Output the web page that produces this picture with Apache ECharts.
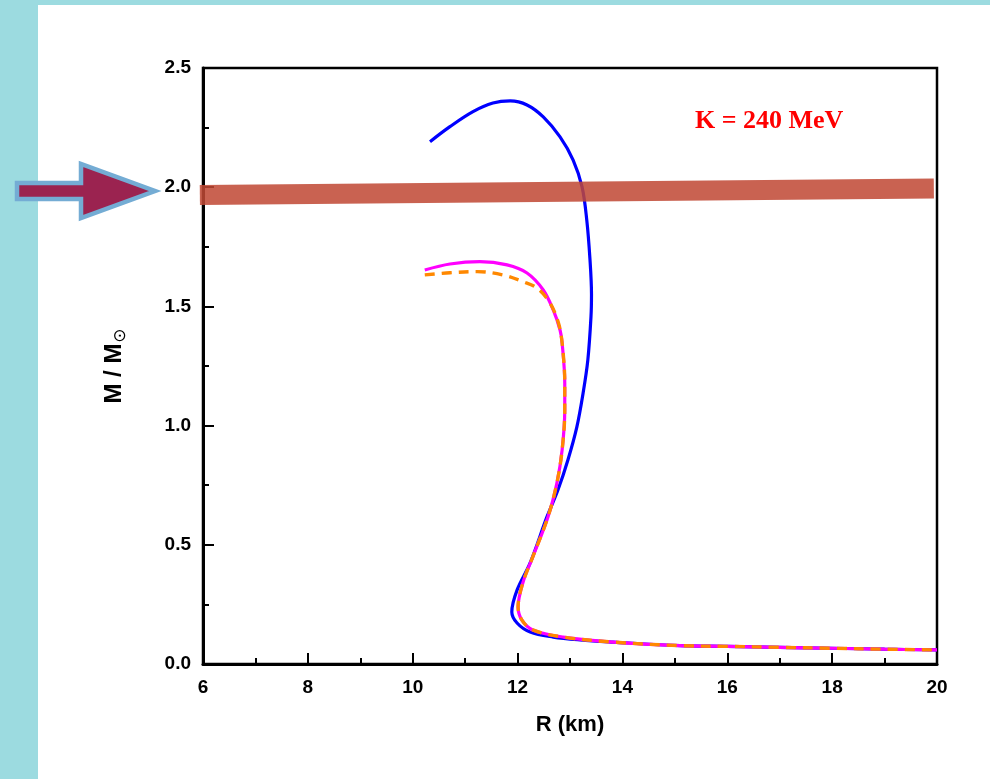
<!DOCTYPE html>
<html>
<head>
<meta charset="utf-8">
<script src="https://cdn.jsdelivr.net/npm/echarts@6/dist/echarts.min.js"></script>
<style>
  html, body { margin: 0; padding: 0; width: 990px; height: 779px; overflow: hidden; background: #9cdbe0; }
  #panel { position: absolute; left: 38px; top: 5px; width: 952px; height: 774px; background: #ffffff; }
  #chart { position: absolute; left: 0; top: 0; width: 990px; height: 779px; }
</style>
</head>
<body>
<div id="panel"></div>
<div id="chart"></div>
<script>
// ---- data (R in km, M in solar masses) ----
const xTicks = [6, 8, 10, 12, 14, 16, 18, 20];
const yTicks = [0.0, 0.5, 1.0, 1.5, 2.0, 2.5];

const blueCurve = [
  [10.33, 2.191], [10.71, 2.254], [11.15, 2.317], [11.53, 2.353], [11.86, 2.362],
  [12.18, 2.345], [12.49, 2.295], [12.81, 2.211], [13.06, 2.114], [13.23, 2.001],
  [13.32, 1.862], [13.38, 1.700], [13.41, 1.550], [13.40, 1.456], [13.34, 1.275],
  [13.25, 1.137], [13.13, 0.994], [12.96, 0.856], [12.77, 0.730], [12.56, 0.617],
  [12.24, 0.424], [11.99, 0.310], [11.89, 0.218], [11.99, 0.172], [12.24, 0.134],
  [12.68, 0.113], [13.19, 0.101], [13.82, 0.092], [15.10, 0.077], [16.00, 0.074],
  [17.00, 0.070], [18.00, 0.066], [19.00, 0.062], [20.00, 0.059]
];

const magentaCurve = [
  [10.23, 1.653], [10.71, 1.678], [11.28, 1.688], [11.80, 1.674], [12.18, 1.640],
  [12.49, 1.569], [12.68, 1.485], [12.81, 1.401], [12.85, 1.346], [12.90, 1.179],
  [12.90, 1.065], [12.85, 0.898], [12.75, 0.759], [12.58, 0.617], [12.29, 0.449],
  [12.10, 0.340], [12.01, 0.239], [12.08, 0.185], [12.29, 0.143], [12.87, 0.113],
  [13.82, 0.092], [15.10, 0.077], [16.00, 0.074], [17.00, 0.070], [18.00, 0.066],
  [19.00, 0.062], [20.00, 0.059]
];

const orangeCurve = [
  [10.23, 1.632], [10.71, 1.641], [11.23, 1.646], [11.72, 1.632], [12.10, 1.604],
  [12.37, 1.577], [12.62, 1.514], [12.78, 1.430], [12.85, 1.346], [12.90, 1.179],
  [12.90, 1.065], [12.85, 0.898], [12.75, 0.759], [12.58, 0.617], [12.29, 0.449],
  [12.10, 0.340], [12.01, 0.239], [12.08, 0.185], [12.29, 0.143], [12.87, 0.113],
  [13.82, 0.092], [15.10, 0.077], [16.00, 0.074], [17.00, 0.070], [18.00, 0.066],
  [19.00, 0.062], [20.00, 0.059]
];

const bandR = [5.94, 19.94];
const bandM = [1.967, 1.995];

const annotationText = 'K = 240 MeV';
const xName = 'R (km)';
const yName = 'M / M';

// ---- chart ----
const chart = echarts.init(document.getElementById('chart'), null, { renderer: 'canvas' });

const axisFont = { fontFamily: 'Liberation Sans, Arial, sans-serif', fontWeight: 'bold', fontSize: 19, color: '#000' };

const option = {
  backgroundColor: 'transparent',
  animation: false,
  grid: { left: 203, top: 68, right: 53, bottom: 115, show: true, borderColor: '#000', borderWidth: 2.5, outerBoundsMode: 'none' },
  xAxis: {
    type: 'value', min: xTicks[0], max: xTicks[xTicks.length - 1], interval: 2,
    name: xName, nameLocation: 'middle', nameGap: 50,
    nameTextStyle: { fontFamily: 'Liberation Sans, Arial, sans-serif', fontWeight: 'bold', fontSize: 22, color: '#000' },
    axisLine: { show: true, lineStyle: { color: '#000', width: 3 } },
    axisTick: { show: true, inside: true, length: 11, lineStyle: { color: '#000', width: 2 } },
    minorTick: { show: true, splitNumber: 2, length: 6, lineStyle: { color: '#000', width: 2 } },
    splitLine: { show: false },
    axisLabel: Object.assign({ margin: 14, formatter: v => String(v) }, axisFont)
  },
  yAxis: {
    type: 'value', min: yTicks[0], max: yTicks[yTicks.length - 1], interval: 0.5,
    name: '{a|' + yName + '}{b|\u2299}', nameLocation: 'middle', nameGap: 74, nameRotate: 90,
    nameTextStyle: {
      rich: {
        a: { fontFamily: 'Liberation Sans, Arial, sans-serif', fontWeight: 'bold', fontSize: 24, color: '#000', lineHeight: 30 },
        b: { fontFamily: 'DejaVu Sans, sans-serif', fontSize: 17, color: '#000', lineHeight: 30, padding: [14, 0, 0, 1] }
      }
    },
    axisLine: { show: true, lineStyle: { color: '#000', width: 3 } },
    axisTick: { show: true, inside: true, length: 11, lineStyle: { color: '#000', width: 2 } },
    minorTick: { show: true, splitNumber: 2, length: 6, lineStyle: { color: '#000', width: 2 } },
    splitLine: { show: false },
    axisLabel: Object.assign({ margin: 12, formatter: v => v.toFixed(1) }, axisFont)
  },
  series: [
    {
      name: 'blue', type: 'line', data: blueCurve, smooth: 0.35, showSymbol: false, symbol: 'none',
      lineStyle: { color: '#0000ff', width: 3.2 }, z: 3
    },
    {
      name: 'magenta', type: 'line', data: magentaCurve, smooth: 0.35, showSymbol: false, symbol: 'none',
      lineStyle: { color: '#ff00ff', width: 3.2 }, z: 4
    },
    {
      name: 'orange', type: 'line', data: orangeCurve, smooth: 0.35, showSymbol: false, symbol: 'none',
      lineStyle: { color: '#ff8800', width: 3.4, type: [10, 7] }, z: 5
    },
    {
      name: 'band', type: 'line', data: [[bandR[0], bandM[0]], [bandR[1], bandM[1]]],
      clip: false, showSymbol: false, symbol: 'none',
      lineStyle: { color: 'rgba(192, 72, 52, 0.86)', width: 20, cap: 'butt' }, z: 6
    }
  ],
  graphic: [
    {
      type: 'polygon', z: 10,
      shape: { points: [[17, 183], [81, 183], [81, 164], [155, 191], [81, 218], [81, 199], [17, 199]] },
      style: { fill: '#9b2350', stroke: '#74acd4', lineWidth: 4.5, lineJoin: 'miter' }
    },
    {
      type: 'text', z: 10, left: 695, top: 108,
      style: { text: annotationText, fill: '#ff0000', font: 'bold 26px "Liberation Serif", "Times New Roman", serif' }
    }
  ]
};

chart.setOption(option);
</script>
</body>
</html>
